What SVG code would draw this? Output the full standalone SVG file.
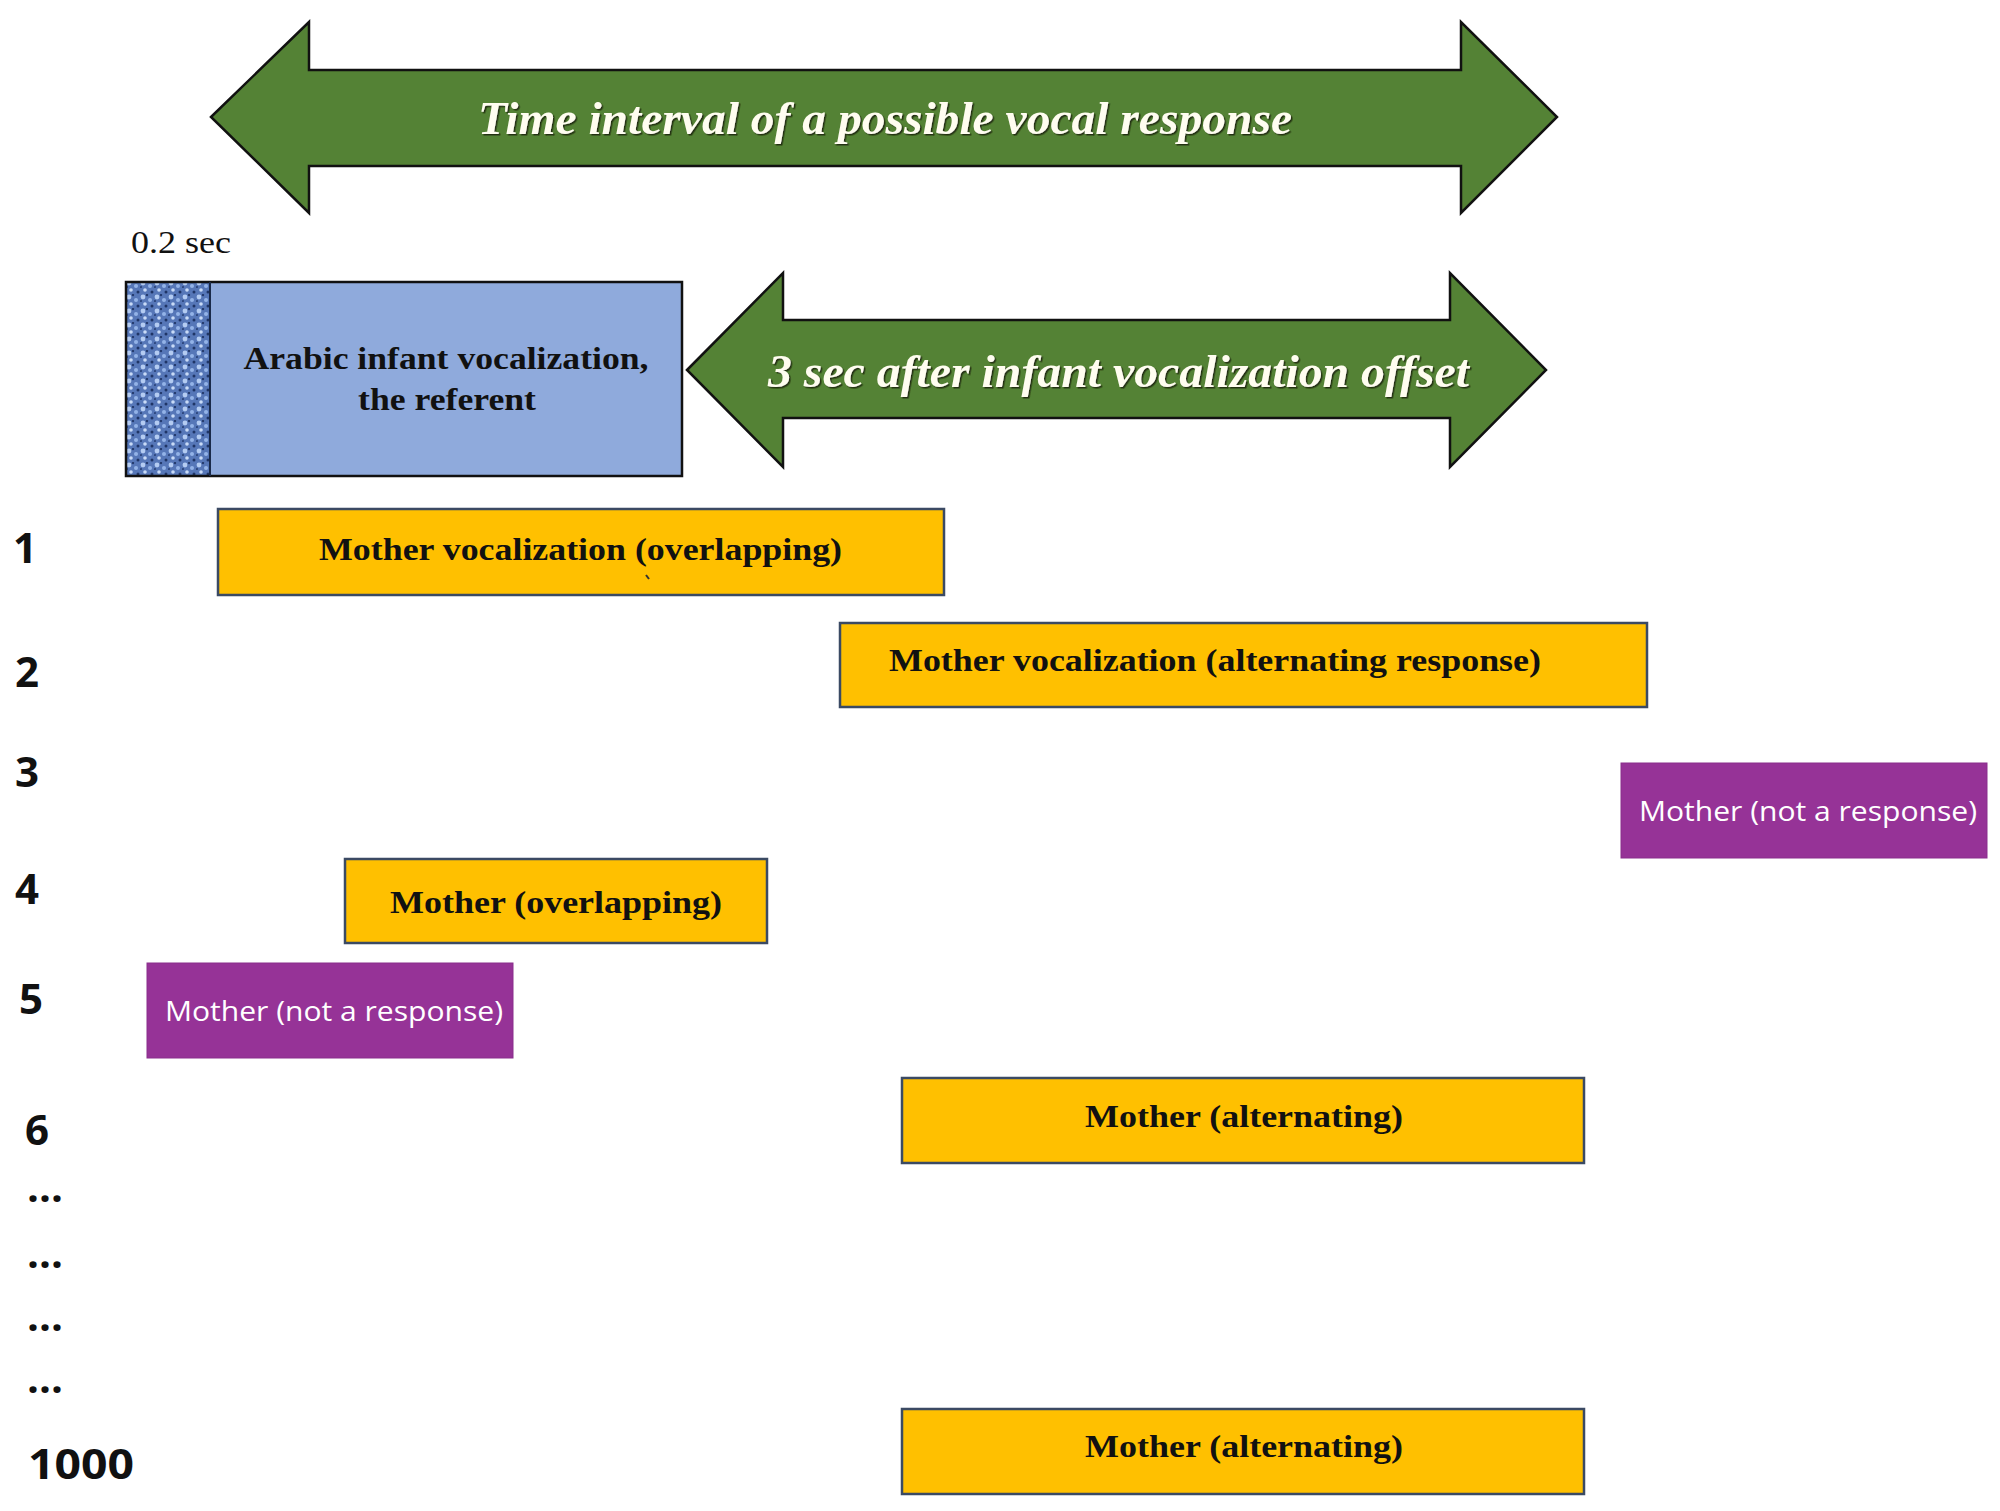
<svg xmlns="http://www.w3.org/2000/svg" width="2000" height="1511" viewBox="0 0 2000 1511">
<style>
.arrow{fill:#548235;stroke:#111;stroke-width:2.5;stroke-linejoin:miter}
.atext{font-family:"Liberation Serif",serif;font-style:italic;font-weight:bold;font-size:46px;fill:#fffdf0;filter:url(#sh)}
.yel{fill:#FFC000;stroke:#3b4a63;stroke-width:2.5}
.pur{fill:#963397;stroke:#8a2f8c;stroke-width:1}
.ser{font-family:"Liberation Serif",serif;font-weight:bold;font-size:32px;fill:#111}
.sans{font-family:"Open Sans","Liberation Sans",sans-serif;font-size:28px;fill:#fff}
.lab{font-family:"Open Sans","Liberation Sans",sans-serif;font-weight:bold;font-size:42px;fill:#111}
</style>
<defs>
<filter id="sh" x="-5%" y="-20%" width="110%" height="140%">
<feDropShadow dx="1.5" dy="1.5" stdDeviation="0.6" flood-color="#1d2a10" flood-opacity="0.9"/>
</filter>
<pattern id="tex" width="14" height="14" patternUnits="userSpaceOnUse">
<rect width="14" height="14" fill="#5677b8"/>
<circle cx="3" cy="3" r="2.4" fill="#b4ccf2"/>
<circle cx="10" cy="6" r="2" fill="#93b3e8"/>
<circle cx="5" cy="10" r="1.8" fill="#c9dbf7"/>
<circle cx="12" cy="12" r="1.5" fill="#1f3566"/>
<circle cx="7" cy="1" r="1.2" fill="#233a6d"/>
<circle cx="1" cy="7" r="1.1" fill="#2a437a"/>
</pattern>
</defs>
<rect width="2000" height="1511" fill="#fff"/>

<g id="connectors">
<g id="arrow-time-interval">
<path class="arrow" d="M211,117 L309,22 L309,70 L1461,70 L1461,22 L1557,117 L1461,213 L1461,166 L309,166 L309,213 Z"/>
<text class="atext" x="478" y="134" textLength="814" lengthAdjust="spacingAndGlyphs">Time interval of a possible vocal response</text>
</g>
<g id="arrow-3sec">
<path class="arrow" d="M687,370 L783,273 L783,320 L1450,320 L1450,273 L1546,370 L1450,467 L1450,418 L783,418 L783,467 Z"/>
<text class="atext" x="768" y="387" textLength="701" lengthAdjust="spacingAndGlyphs">3 sec after infant vocalization offset</text>
</g>
</g>

<g id="label-02sec">
<text x="131" y="253" font-family="Liberation Serif,serif" font-size="31" fill="#111" textLength="100" lengthAdjust="spacingAndGlyphs">0.2 sec</text>
</g>

<g id="infant">
<rect x="126" y="282" width="84" height="194" fill="url(#tex)"/>
<rect x="210" y="282" width="472" height="194" fill="#8FAADC"/>
<rect x="126" y="282" width="556" height="194" fill="none" stroke="#111" stroke-width="2.5"/>
<line x1="210" y1="282" x2="210" y2="476" stroke="#1a2a4a" stroke-width="2"/>
<text class="ser" x="446" y="369" text-anchor="middle" textLength="405" lengthAdjust="spacingAndGlyphs">Arabic infant vocalization,</text>
<text class="ser" x="447" y="410" text-anchor="middle" textLength="178" lengthAdjust="spacingAndGlyphs">the referent</text>
</g>

<g id="labels">
<text class="lab" x="13" y="563">1</text>
<text class="lab" x="15" y="687">2</text>
<text class="lab" x="15" y="787">3</text>
<text class="lab" x="15" y="904">4</text>
<text class="lab" x="19" y="1014">5</text>
<text class="lab" x="25" y="1145">6</text>
<text class="lab" x="27" y="1202">...</text>
<text class="lab" x="27" y="1268">...</text>
<text class="lab" x="27" y="1331">...</text>
<text class="lab" x="27" y="1393">...</text>
<text class="lab" x="28" y="1479" textLength="106" lengthAdjust="spacingAndGlyphs">1000</text>
</g>

<g id="row1">
<rect class="yel" x="218" y="509" width="726" height="86"/>
<text class="ser" x="319" y="560" textLength="523" lengthAdjust="spacingAndGlyphs">Mother vocalization (overlapping)</text>
<path d="M646,575 l3,4" stroke="#333" stroke-width="2"/>
</g>
<g id="row2">
<rect class="yel" x="840" y="623" width="807" height="84"/>
<text class="ser" x="889" y="671" textLength="652" lengthAdjust="spacingAndGlyphs">Mother vocalization (alternating response)</text>
</g>
<g id="row3">
<rect class="pur" x="1621" y="763" width="366" height="95"/>
<text class="sans" x="1639" y="821" textLength="338" lengthAdjust="spacingAndGlyphs">Mother (not a response)</text>
</g>
<g id="row4">
<rect class="yel" x="345" y="859" width="422" height="84"/>
<text class="ser" x="390" y="913" textLength="332" lengthAdjust="spacingAndGlyphs">Mother (overlapping)</text>
</g>
<g id="row5">
<rect class="pur" x="147" y="963" width="366" height="95"/>
<text class="sans" x="165" y="1021" textLength="338" lengthAdjust="spacingAndGlyphs">Mother (not a response)</text>
</g>
<g id="row6">
<rect class="yel" x="902" y="1078" width="682" height="85"/>
<text class="ser" x="1085" y="1127" textLength="318" lengthAdjust="spacingAndGlyphs">Mother (alternating)</text>
</g>
<g id="row1000">
<rect class="yel" x="902" y="1409" width="682" height="85"/>
<text class="ser" x="1085" y="1457" textLength="318" lengthAdjust="spacingAndGlyphs">Mother (alternating)</text>
</g>
</svg>
